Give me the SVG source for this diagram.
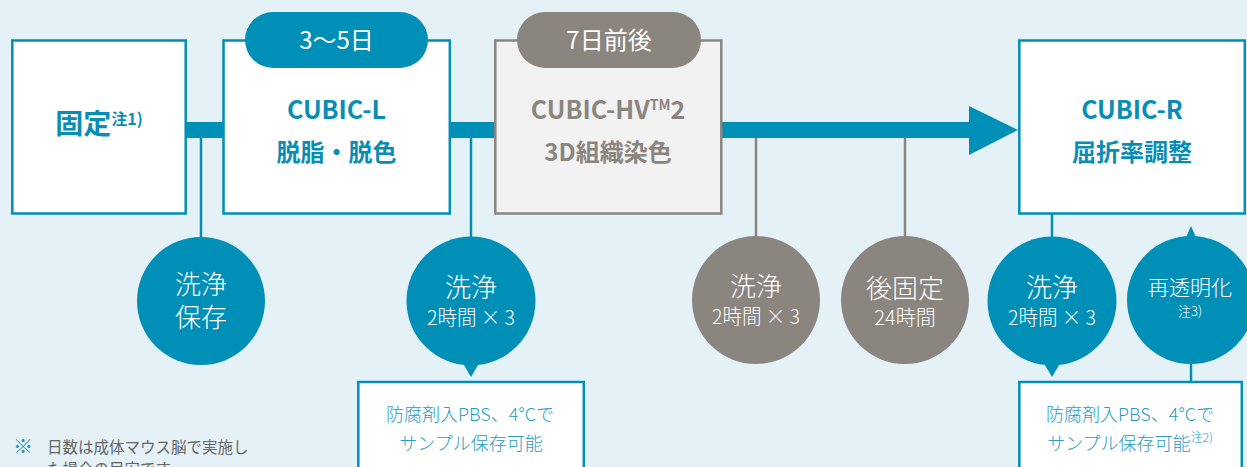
<svg xmlns="http://www.w3.org/2000/svg" width="1247" height="467" viewBox="0 0 1247 467">
<style>
.bg{fill:#e4f2f8}
.box{fill:#fff;stroke:#008fb7;stroke-width:2.5}
.gbox{fill:#f2f2f2;stroke:#8b8580;stroke-width:2.5}
.tpill{fill:#008fb7}
.gpill{fill:#8b8580}
.tc{fill:#008fb7}
.gc{fill:#8b8580}
.tline{stroke:#008fb7;stroke-width:2.5;fill:none}
.gline{stroke:#8b8580;stroke-width:2.5;fill:none}
text{font-family:"Noto Sans CJK JP","Noto Sans",sans-serif;text-anchor:middle}
.title{font-weight:700;fill:#0a8db5}
.gtitle{font-weight:700;fill:#8b8580}
.pilltxt{fill:#fff;font-size:24px;font-weight:400}
.ctxt{fill:#fff;font-weight:300}
.btxt{fill:#2a9bc2;font-weight:300;font-size:18px}
.note{fill:#666;font-size:15.5px;font-weight:400;text-anchor:start}
.mark{fill:#1a95c0;font-size:20px;font-weight:700;text-anchor:start}
</style>
<rect class="bg" x="0" y="0" width="1247" height="467"/>

<g id="connectors">
  <rect class="tc" x="186" y="122" width="784" height="16"/>
  <polygon class="tc" points="969,106 1018,130 969,155"/>
  <line class="tline" x1="201" y1="138" x2="201" y2="240"/>
  <line class="tline" x1="471" y1="138" x2="471" y2="240"/>
  <line class="gline" x1="756" y1="138" x2="756" y2="240"/>
  <line class="gline" x1="905" y1="138" x2="905" y2="240"/>
  <line class="tline" x1="1052" y1="214" x2="1052" y2="240"/>
  <line class="tline" x1="1191" y1="360" x2="1191" y2="382"/>
  <polygon class="tc" points="461,360 481,360 471,377"/>
  <polygon class="tc" points="1042,360 1062,360 1052,377"/>
  <polygon class="tc" points="1184,242 1198,242 1191,226"/>
</g>

<g id="node-fix">
  <rect class="box" x="12.3" y="40.5" width="173.4" height="173"/>
  <text class="title" x="99" y="134" font-size="28"><tspan>固定</tspan><tspan font-size="16" dy="-9">注1)</tspan></text>
</g>

<g id="node-cubic-l">
  <rect class="box" x="223.5" y="40.5" width="226.3" height="173"/>
  <rect class="tpill" x="245" y="12" width="183" height="56" rx="28"/>
  <text class="pilltxt" x="336.5" y="49">3〜5日</text>
  <text class="title" x="336.5" y="119" font-size="25">CUBIC-L</text>
  <text class="title" x="336.5" y="161" font-size="24">脱脂・脱色</text>
</g>

<g id="node-cubic-hv">
  <rect class="gbox" x="495.3" y="40.5" width="226" height="173"/>
  <rect class="gpill" x="517" y="12" width="184" height="56" rx="28"/>
  <text class="pilltxt" x="609" y="49">7日前後</text>
  <text class="gtitle" x="608" y="119" font-size="25">CUBIC-HV<tspan font-size="14" dy="-9">TM</tspan><tspan dy="9">2</tspan></text>
  <text class="gtitle" x="608" y="161" font-size="24">3D組織染色</text>
</g>

<g id="node-cubic-r">
  <rect class="box" x="1019.3" y="40.5" width="225.5" height="173"/>
  <text class="title" x="1132" y="119" font-size="25">CUBIC-R</text>
  <text class="title" x="1132" y="161" font-size="24">屈折率調整</text>
</g>

<g id="circle-wash-store">
  <circle class="tc" cx="201" cy="301" r="64"/>
  <text class="ctxt" x="201" y="294" font-size="26">洗浄</text>
  <text class="ctxt" x="201" y="327" font-size="26">保存</text>
</g>

<g id="circle-wash-1">
  <circle class="tc" cx="471" cy="301" r="64.5"/>
  <text class="ctxt" x="471" y="297" font-size="26">洗浄</text>
  <text class="ctxt" x="471" y="325" font-size="20" textLength="88" lengthAdjust="spacingAndGlyphs">2時間 × 3</text>
</g>

<g id="circle-wash-2">
  <circle class="gc" cx="756" cy="300" r="64"/>
  <text class="ctxt" x="756" y="296" font-size="26">洗浄</text>
  <text class="ctxt" x="756" y="324" font-size="20" textLength="88" lengthAdjust="spacingAndGlyphs">2時間 × 3</text>
</g>

<g id="circle-postfix">
  <circle class="gc" cx="905" cy="300" r="64"/>
  <text class="ctxt" x="905" y="298" font-size="26">後固定</text>
  <text class="ctxt" x="905" y="325" font-size="20">24時間</text>
</g>

<g id="circle-wash-3">
  <circle class="tc" cx="1052" cy="301" r="64.5"/>
  <text class="ctxt" x="1052" y="297" font-size="26">洗浄</text>
  <text class="ctxt" x="1052" y="325" font-size="20" textLength="88" lengthAdjust="spacingAndGlyphs">2時間 × 3</text>
</g>

<g id="circle-reclear">
  <circle class="tc" cx="1191" cy="300" r="64"/>
  <text class="ctxt" x="1190" y="295" font-size="21">再透明化</text>
  <text class="ctxt" x="1190" y="316" font-size="13" font-weight="400">注3)</text>
</g>

<g id="box-store-1">
  <rect class="box" x="358.3" y="382" width="225.5" height="100"/>
  <text class="btxt" x="470" y="421">防腐剤入PBS、4°Cで</text>
  <text class="btxt" x="471" y="450">サンプル保存可能</text>
</g>

<g id="box-store-2">
  <rect class="box" x="1019.3" y="382" width="222.5" height="100"/>
  <text class="btxt" x="1130" y="421">防腐剤入PBS、4°Cで</text>
  <text class="btxt" x="1130" y="450">サンプル保存可能<tspan font-size="12" dy="-8">注2)</tspan></text>
</g>

<g id="note">
  <text class="mark" x="13" y="454">※</text>
  <text class="note" x="47" y="453">日数は成体マウス脳で実施し</text>
  <text class="note" x="47" y="475">た場合の目安です。</text>
</g>
</svg>
